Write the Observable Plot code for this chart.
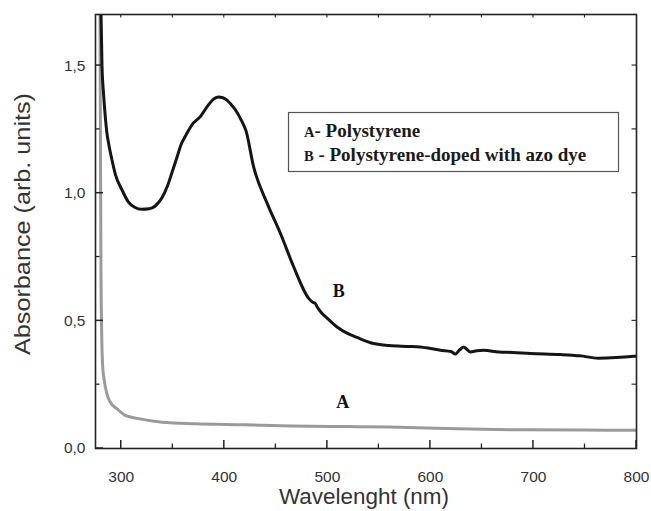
<!DOCTYPE html>
<html>
<head>
<meta charset="utf-8">
<script src="https://cdn.jsdelivr.net/npm/d3@7"></script>
<script src="https://cdn.jsdelivr.net/npm/@observablehq/plot@0.6"></script>
<style>
  html, body { margin: 0; padding: 0; background: #fff; }
  #chart { width: 651px; height: 511px; }
</style>
</head>
<body>
<div id="chart"></div>
<script>
// Curve B: polystyrene doped with azo dye
const wlB  = [280, 281.3, 282.8, 284.5, 286.1, 287.7, 291, 294.2, 300.7, 307, 313, 320, 327, 333, 339.5, 345, 349, 354, 358, 362, 368.6, 376.7, 384.8, 390, 394.5, 398, 402.6, 406, 410.7, 417.2, 421, 428.4, 441.5, 454.4, 467.3, 481.9, 486, 488, 490, 494.9, 500, 509.4, 520, 528.8, 545, 560, 577.4, 590, 600, 609.7, 620, 624.3, 628, 632.3, 635, 638.8, 645, 651.7, 666.3, 680, 697, 726, 745, 763, 780, 797.4, 800];
const absB = [1.78, 1.50, 1.39, 1.30, 1.235, 1.196, 1.13, 1.075, 1.013, 0.965, 0.945, 0.937, 0.939, 0.950, 0.982, 1.03, 1.078, 1.14, 1.19, 1.222, 1.268, 1.30, 1.347, 1.37, 1.377, 1.375, 1.365, 1.35, 1.327, 1.28, 1.245, 1.104, 0.961, 0.843, 0.712, 0.588, 0.572, 0.57, 0.555, 0.529, 0.51, 0.476, 0.45, 0.435, 0.411, 0.403, 0.40, 0.398, 0.392, 0.385, 0.38, 0.370, 0.385, 0.398, 0.39, 0.378, 0.383, 0.385, 0.378, 0.376, 0.372, 0.368, 0.363, 0.354, 0.356, 0.361, 0.362];

// Curve A: polystyrene
const wlA  = [279.3, 279.8, 280.3, 281, 282, 283.5, 286, 289.3, 295.8, 303.9, 316.8, 339.5, 371.8, 420, 465, 520, 561, 626, 690, 750, 800];
const absA = [1.75, 1.2, 0.7, 0.45, 0.32, 0.267, 0.215, 0.182, 0.156, 0.13, 0.117, 0.103, 0.097, 0.093, 0.088, 0.086, 0.084, 0.077, 0.073, 0.072, 0.071];

const xTicks = [300, 400, 500, 600, 700, 800];
const xMinorTicks = [350, 450, 550, 650, 750];
const xTopTicks = [300, 350, 400, 450, 500, 550, 600, 650, 700, 750];
const yTicks = [0, 0.5, 1.0, 1.5];
const yTickLabels = ["0,0", "0,5", "1,0", "1,5"];
const yMinorTicks = [0.25, 0.75, 1.25];
const yRightTicks = [0.25, 0.5, 0.75, 1.0, 1.25, 1.5];

const curveLabels = [
  {wl: 511, a: 0.615, text: "B"},
  {wl: 515, a: 0.18, text: "A"}
];

const legendItems = [
  {key: "A", text: "- Polystyrene"},
  {key: "B", text: " - Polystyrene-doped with azo dye"}
];

const dataB = wlB.map((w, i) => ({wl: w, a: absB[i]}));
const dataA = wlA.map((w, i) => ({wl: w, a: absA[i]}));

const W = 651, H = 511;
const mL = 95, mR = 15, mT = 14, mB = 63;
const innerH = H - mT - mB;
const innerW = W - mL - mR;

const plot = Plot.plot({
  width: W,
  height: H,
  marginLeft: mL,
  marginRight: mR,
  marginTop: mT,
  marginBottom: mB,
  style: {fontFamily: "'Liberation Sans', Arial, sans-serif", background: "#fff", color: "#222"},
  x: {domain: [275, 800]},
  y: {domain: [0, 1.7]},
  marks: [
    Plot.line(dataA, {x: "wl", y: "a", stroke: "#9a9a9a", strokeWidth: 3, clip: true, curve: "monotone-x"}),
    Plot.line(dataB, {x: "wl", y: "a", stroke: "#151515", strokeWidth: 3, clip: true, curve: "monotone-x"}),
    Plot.frame({stroke: "#222", strokeWidth: 1.6}),
    Plot.axisX(xTicks, {tickSize: 0, tickPadding: 22, fontSize: 15.5, fill: "#333", label: null}),
    Plot.axisY(yTicks, {tickSize: 0, tickPadding: 10, fontSize: 15.5, fill: "#333", label: null,
      tickFormat: d => yTickLabels[yTicks.indexOf(d)]}),
    Plot.text(curveLabels, {x: "wl", y: "a", text: "text", fontFamily: "'Liberation Serif', 'Times New Roman', serif",
      fontWeight: "bold", fontSize: 18, fill: "#111"})
  ]
});

const sx = plot.scale("x"), sy = plot.scale("y");
const svg = d3.select(plot);
const x0 = mL, x1 = W - mR, y0 = mT, y1 = H - mB;
const tg = svg.append("g").attr("stroke", "#222").attr("fill", "none");
function vt(vals, yA, len, sw) {
  vals.forEach(v => {
    const px = sx.apply(v);
    tg.append("line").attr("x1", px).attr("x2", px).attr("y1", yA).attr("y2", yA + len)
      .attr("stroke", "#222").attr("stroke-width", sw);
  });
}
function ht(vals, xA, len, sw) {
  vals.forEach(v => {
    const py = sy.apply(v);
    tg.append("line").attr("y1", py).attr("y2", py).attr("x1", xA).attr("x2", xA + len)
      .attr("stroke", "#222").attr("stroke-width", sw);
  });
}
vt(xTicks, y1, -8, 1.5);
vt(xMinorTicks, y1, -4.5, 1.3);
vt(xTopTicks, y0, 3.5, 1.1);
ht(yTicks, x0, 8, 1.5);
ht(yMinorTicks, x0, 4.5, 1.3);
ht(yRightTicks, x1, -4.5, 1.1);

// axis titles
svg.append("text")
  .attr("x", 364)
  .attr("y", 504)
  .attr("text-anchor", "middle")
  .attr("font-family", "'Liberation Sans', Arial, sans-serif")
  .attr("font-size", 21.5)
  .attr("textLength", 170)
  .attr("lengthAdjust", "spacingAndGlyphs")
  .attr("fill", "#333")
  .text("Wavelenght (nm)");
svg.append("text")
  .attr("transform", `translate(30, ${224}) rotate(-90)`)
  .attr("text-anchor", "middle")
  .attr("font-family", "'Liberation Sans', Arial, sans-serif")
  .attr("font-size", 21.5)
  .attr("textLength", 262)
  .attr("lengthAdjust", "spacingAndGlyphs")
  .attr("fill", "#333")
  .text("Absorbance (arb. units)");

// legend box
const lg = svg.append("g");
lg.append("rect")
  .attr("x", 288.5).attr("y", 112.5)
  .attr("width", 330).attr("height", 59)
  .attr("fill", "#fff").attr("stroke", "#555").attr("stroke-width", 1.2);
legendItems.forEach((it, i) => {
  const t = lg.append("text")
    .attr("x", 304)
    .attr("y", 137 + i * 24)
    .attr("text-anchor", "start")
    .attr("font-family", "'Liberation Serif', 'Times New Roman', serif")
    .attr("font-weight", "bold")
    .attr("fill", "#1a1a1a");
  t.append("tspan").attr("font-size", 14.5).text(it.key);
  t.append("tspan").attr("font-size", 19).text(it.text);
});

document.getElementById("chart").appendChild(plot);
</script>
</body>
</html>
